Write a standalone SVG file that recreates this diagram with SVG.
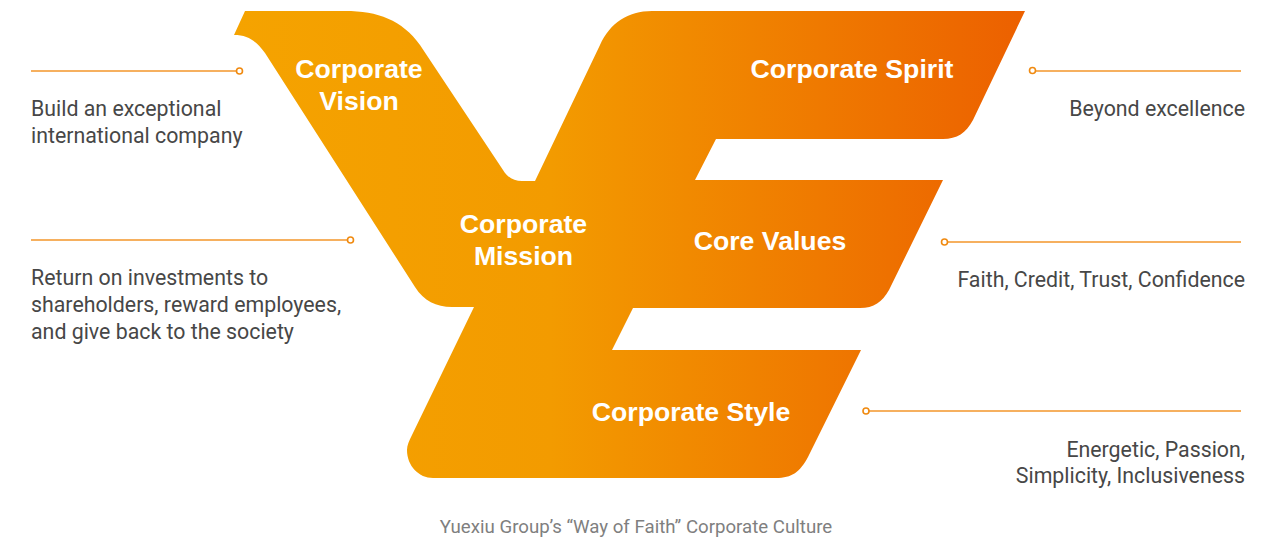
<svg xmlns="http://www.w3.org/2000/svg" width="1278" height="538" viewBox="0 0 1278 538">
<style>
.t{font-family:"Liberation Sans",Arial,sans-serif;font-weight:700;font-size:26.67px;fill:#fff;text-anchor:middle}
.d{font-family:Roboto,"Liberation Sans",sans-serif;font-size:21.33px;fill:#474747}
.e{text-anchor:end}
.c{font-family:Roboto,"Liberation Sans",sans-serif;font-size:18.67px;fill:#7f7f7f;text-anchor:middle}
.l{stroke:#f3962b;stroke-width:1.5;fill:none}
.o{stroke:#f08a10;stroke-width:1.6;fill:#fff}
</style>
<defs><linearGradient id="g" gradientUnits="userSpaceOnUse" x1="234" y1="0" x2="1025" y2="0"><stop offset="0" stop-color="#f5a300"/><stop offset=".4" stop-color="#f39b00"/><stop offset="1" stop-color="#ec6000"/></linearGradient></defs>
<g id="emblem"><path fill="url(#g)" d="M245 11H345C378 11 402 20 420 45L503 170C508 178 514 181 522 181H535L600 45C610 23 628 11 652 11H1025L973 120C966 133 957 139 943 139H716L695 180H943L889 290C882 302 874 308 860 308H633L612 350H861L808 457C800 472 792 478 776 478H433C419 478 407 466 407 450C407 445 409 441 412 435L474 307H452C436 307 424 301 415 287L265 53C256 41 248 35 234 35Z"/>
<text class="t" x="359" y="78">Corporate</text><text class="t" x="359" y="110">Vision</text>
</g>
<g id="mission"><text class="t" x="523.500" y="233">Corporate</text><text class="t" x="523.500" y="265">Mission</text></g>
<g id="spirit"><text class="t" x="852" y="78">Corporate Spirit</text></g>
<g id="values"><text class="t" x="770" y="250">Core Values</text></g>
<g id="style"><text class="t" x="691" y="421">Corporate Style</text></g>
<g id="connectors">
<path class="l" d="M31 71H236M31 240H347M1036 71H1241M948 242H1241M869 411H1241"/>
<circle class="o" cx="239.500" cy="71" r="3"/><circle class="o" cx="350.500" cy="240" r="3"/><circle class="o" cx="1032.500" cy="70.500" r="3"/><circle class="o" cx="944.500" cy="242" r="3"/><circle class="o" cx="866" cy="411" r="3"/>
</g>
<g id="desc-vision"><text class="d" x="31" y="116">Build an exceptional</text><text class="d" x="31" y="143">international company</text></g>
<g id="desc-mission"><text class="d" x="31" y="285">Return on investments to</text><text class="d" x="31" y="312">shareholders, reward employees,</text><text class="d" x="31" y="339">and give back to the society</text></g>
<g id="desc-spirit"><text class="d e" x="1245" y="116">Beyond excellence</text></g>
<g id="desc-values"><text class="d e" x="1245" y="287">Faith, Credit, Trust, Confidence</text></g>
<g id="desc-style"><text class="d e" x="1245" y="457">Energetic, Passion,</text><text class="d e" x="1245" y="483">Simplicity, Inclusiveness</text></g>
<g id="caption"><text class="c" x="636" y="533">Yuexiu Group’s “Way of Faith” Corporate Culture</text></g>
</svg>
